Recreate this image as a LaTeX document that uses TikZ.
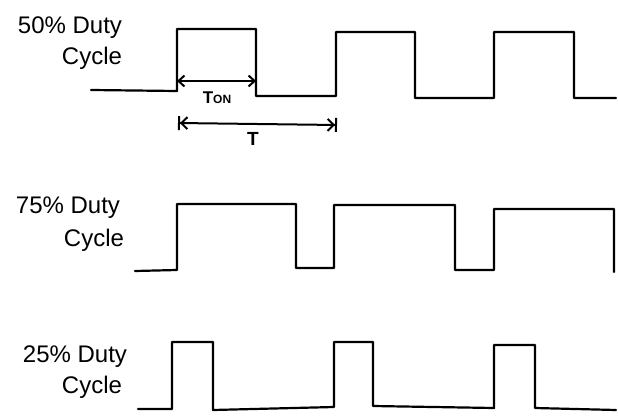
\documentclass[tikz,border=0pt]{standalone}
\usepackage{fontspec}
\setmainfont{Liberation Sans}
\usetikzlibrary{arrows.meta}
\begin{document}
\begin{tikzpicture}[x=1pt,y=-1pt,
  wave/.style={line width=2.2pt,line join=round,line cap=round},
  lbl/.style={font=\fontsize{24}{26}\selectfont,anchor=base,inner sep=0pt},
  dim/.style={line width=2pt}]
\useasboundingbox (0,0) rectangle (618,420);
\fill[white] (0,0) rectangle (618,420);
% labels
\node[lbl] (l50a) at (70,34) {50\% Duty};
\node[lbl] (l50b) at (92,65) {Cycle};
\node[lbl] (l75a) at (68,213) {75\% Duty};
\node[lbl] (l75b) at (94,246) {Cycle};
\node[lbl] (l25a) at (75,362) {25\% Duty};
\node[lbl] (l25b) at (92,393) {Cycle};
% 50% wave
\draw[wave] (91,90) -- (177,91) -- (177,29) -- (256,29) -- (256,96) -- (336,96)
  -- (336,32) -- (415,32) -- (415,98) -- (494,98) -- (494,32) -- (574,32)
  -- (574,98) -- (616,98);
% 75% wave
\draw[wave] (135,271) -- (177,270) -- (177,204) -- (296,204) -- (296,268) -- (334,268)
  -- (334,205) -- (455,205) -- (455,270) -- (494,270) -- (494,209) -- (614,209) -- (614,272);
% 25% wave
\draw[wave] (138,409) -- (172,409) -- (172,342) -- (213,342) -- (213,410) -- (334,407)
  -- (334,342) -- (373,342) -- (373,406) -- (494,408) -- (494,345) -- (535,345)
  -- (535,408) -- (616,410);
% dimension arrows
\coordinate (ton1) at (177,81);
\coordinate (ton2) at (256,81);
\coordinate (t1) at (178,123);
\coordinate (t2) at (337,125);
\draw[dim,{Straight Barb[length=6pt,width=11pt]}-{Straight Barb[length=6pt,width=11pt]}] (ton1) -- (ton2);
\draw[dim,{Bar[width=14pt]Straight Barb[length=6pt,width=12pt]}-{Straight Barb[length=6pt,width=12pt]Bar[width=14pt]}] (t1) -- (t2);
\node[font=\fontsize{17}{18}\selectfont\bfseries,inner sep=0pt,anchor=base] (ton) at (217,103) {T{\fontsize{12}{12}\selectfont ON}};
\node[font=\fontsize{19}{22}\selectfont\bfseries,inner sep=0pt,anchor=base] (tl) at (253,145) {T};
\end{tikzpicture}
\end{document}
